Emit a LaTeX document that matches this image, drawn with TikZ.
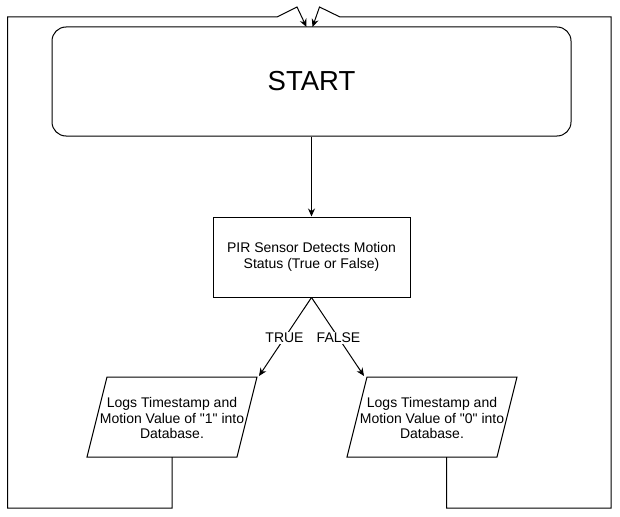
\documentclass[tikz,border=0pt]{standalone}
\usepackage{fontspec}
\setmainfont{Liberation Sans}[Ligatures=TeXOff]
\usetikzlibrary{arrows.meta}
\begin{document}
\begin{tikzpicture}[x=1pt,y=-1pt,
  line/.style={line width=1pt, draw=black},
  arr/.style={line, -{Stealth[length=8pt,width=7pt]}},
  txt/.style={font=\fontsize{14}{15.5}\selectfont, align=center, inner sep=0pt},
  lbl/.style={font=\fontsize{14}{16}\selectfont, fill=white, inner sep=1.5pt}]
\useasboundingbox (0,0) rectangle (620,516);
\fill[white] (0,0) rectangle (620,516);
% START
\node[line, rounded corners=14pt, minimum width=519pt, minimum height=109pt,
      inner sep=0pt, font=\fontsize{27.5}{32}\selectfont] (start) at (311.5,81.5) {START};
% PIR box
\node[line, txt, minimum width=197pt, minimum height=80pt] (pir) at (311.5,257)
  {PIR Sensor Detects Motion\\Status (True or False)};
% parallelograms
\draw[line] (107,377) -- (257,377) -- (237,457) -- (87,457) -- cycle;
\node[txt] (log1) at (172,418) {Logs Timestamp and\\Motion Value of "1" into\\Database.};
\draw[line] (367,377) -- (517,377) -- (497,457) -- (347,457) -- cycle;
\node[txt] (log0) at (432,418) {Logs Timestamp and\\Motion Value of "0" into\\Database.};
% coordinates
\coordinate (t1) at (259,376);
\coordinate (t0) at (364,376);
\coordinate (b1) at (172,457);
\coordinate (b0) at (446.5,457);
\coordinate (s1) at (306.5,27);
\coordinate (s0) at (312.5,27);
% connectors
\draw[arr] (start.south) -- (pir.north);
\draw[arr] (pir.south) -- (t1);
\draw[arr] (pir.south) -- (t0);
\node[lbl] (ltrue) at (284.5,338) {TRUE};
\node[lbl] (lfalse) at (338.5,338) {FALSE};
\draw[arr] (b1) -- (172,508) -- (7.5,508) -- (7.5,17) -- (277,17) -- (297,7) -- (s1);
\draw[arr] (b0) -- (446.5,508) -- (611,508) -- (611,17) -- (340,17) -- (319.5,7) -- (s0);
\end{tikzpicture}
\end{document}
